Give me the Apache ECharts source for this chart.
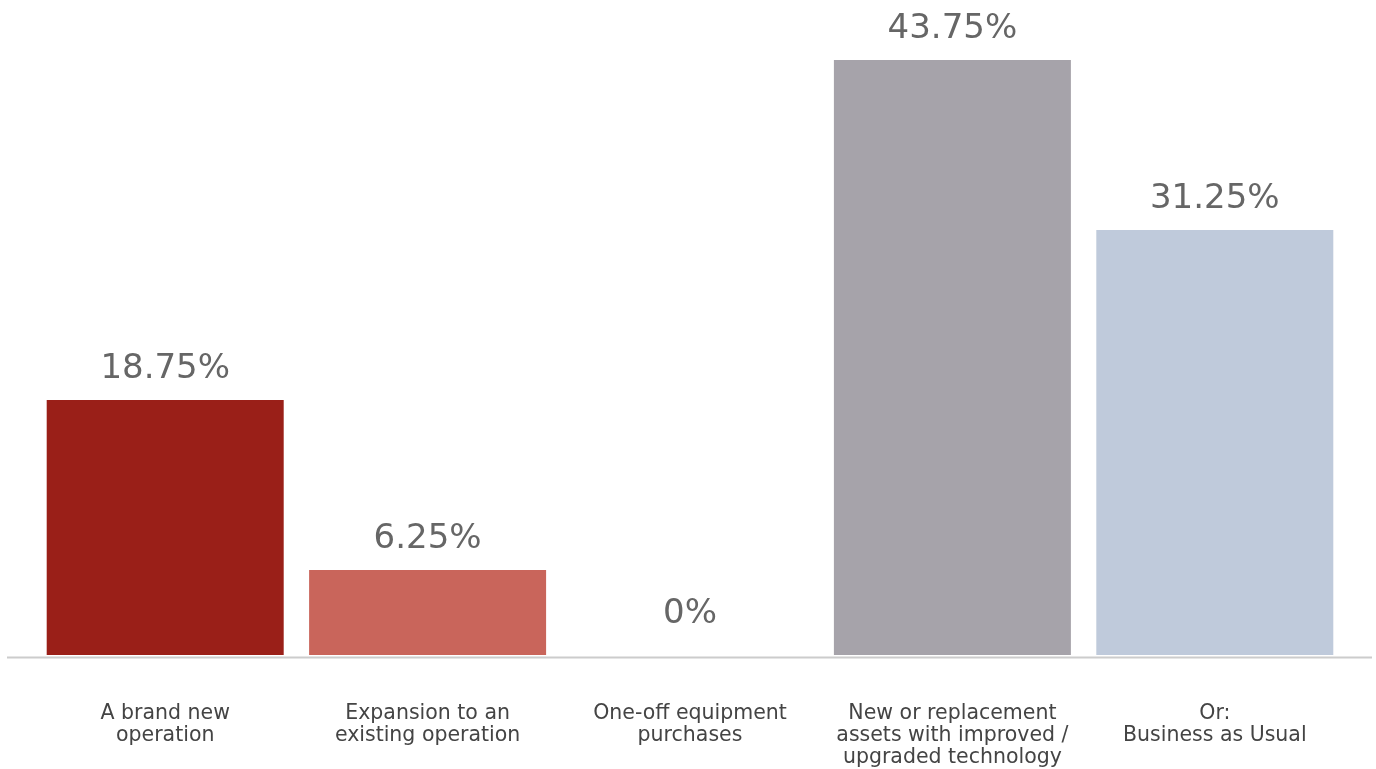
<!DOCTYPE html>
<html>
<head>
<meta charset="utf-8">
<script src="https://cdn.jsdelivr.net/npm/echarts@6/dist/echarts.min.js"></script>
<style>
  html, body { margin: 0; padding: 0; background: #fff; }
  #chart { width: 1376px; height: 769px; }
</style>
</head>
<body>
<div id="chart"></div>
<script>
// Survey answers and share of respondents (%)
const categories = [
  'A brand new\noperation',
  'Expansion to an\nexisting operation',
  'One-off equipment\npurchases',
  'New or replacement\nassets with improved /\nupgraded technology',
  'Or:\nBusiness as Usual'
];
const shares = [18.75, 6.25, 0, 43.75, 31.25];
const barColors = ['#9a1f18', '#c9655b', '#c9c9c9', '#a6a3aa', '#bfcadb'];

const FONT = '"DejaVu Sans", sans-serif';

const chart = echarts.init(document.getElementById('chart'), null, { renderer: 'canvas' });

chart.setOption({
  animation: false,
  backgroundColor: '#ffffff',
  grid: { left: 34, right: 30, top: 60, bottom: 112, containLabel: false },
  xAxis: {
    type: 'category',
    data: categories,
    axisLine: { show: false },
    axisTick: { show: false },
    axisLabel: {
      interval: 0,
      margin: 48,
      color: '#444444',
      fontFamily: FONT,
      fontSize: 20.5,
      lineHeight: 22,
      verticalAlign: 'top'
    }
  },
  yAxis: {
    type: 'value',
    min: 0,
    max: 43.75,
    show: false,
    splitLine: { show: false }
  },
  series: [{
    type: 'bar',
    barWidth: 237,
    data: shares.map((v, i) => ({
      value: v,
      itemStyle: { color: barColors[i] },
      // the empty bar's label sits a little higher above the baseline
      label: v === 0 ? { distance: 24 } : undefined
    })),
    label: {
      show: true,
      position: 'top',
      distance: 14,
      color: '#666666',
      fontFamily: FONT,
      fontSize: 34,
      formatter: p => p.value + '%'
    }
  }],
  graphic: [{
    type: 'line',
    shape: { x1: 7, y1: 657.5, x2: 1372, y2: 657.5 },
    style: { stroke: '#cccccc', lineWidth: 2 },
    z: 10
  }]
});
</script>
</body>
</html>
